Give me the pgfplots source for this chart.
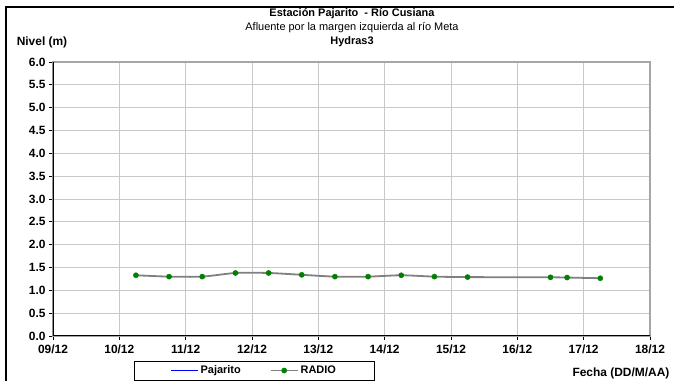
\documentclass[border=0pt]{standalone}
\usepackage{fontspec}
\setmainfont{Liberation Sans}
\usepackage{pgfplots}
\pgfplotsset{compat=1.18}
\definecolor{radiogreen}{HTML}{008000}
\definecolor{linegray}{HTML}{808080}
\definecolor{gridgray}{HTML}{C8C8C8}
\begin{document}
\begin{tikzpicture}
\useasboundingbox (0,0) rectangle (674bp,381bp);
\draw[line width=1.2bp] (6bp,0) -- (6bp,374bp) -- (674bp,374bp);
\node[font=\bfseries\fontsize{11}{12}\selectfont] at (352bp,367bp) {Estación Pajarito \ - Río Cusiana};
\node[font=\fontsize{11}{12}\selectfont] at (352bp,353bp) {Afluente por la margen izquierda al río Meta};
\node[font=\bfseries\fontsize{11}{12}\selectfont] at (352bp,339bp) {Hydras3};
\node[font=\bfseries\fontsize{12}{13}\selectfont] at (42bp,339bp) {Nivel (m)};
\node[font=\bfseries\fontsize{12}{13}\selectfont, anchor=east] at (673bp,8bp) {Fecha (DD/M/AA)};
\begin{axis}[
  at={(53bp,45bp)}, anchor=south west,
  scale only axis, width=597bp, height=274bp,
  xmin=0, xmax=9, ymin=0, ymax=6,
  xtick={0,1,...,9},
  xticklabels={09/12,10/12,11/12,12/12,13/12,14/12,15/12,16/12,17/12,18/12},
  ytick={0,0.5,...,6.01},
  yticklabel style={/pgf/number format/.cd, fixed, fixed zerofill, precision=1},
  xticklabel style={yshift=-1bp},
  /pgf/number format/assume math mode=true,
  ticklabel style={font=\bfseries\fontsize{12}{13}\selectfont},
  grid=major,
  major grid style={draw=gridgray, line width=0.9bp},
  axis line style={draw=gray!70, line width=1.2bp},
  tick align=outside, xtick pos=left, ytick pos=left,
  major tick length=4bp,
  tick style={black, line width=0.8bp},
  legend columns=2,
  legend style={at={(rel axis cs:0.337,-0.126)}, anchor=center,
    draw=black, line width=0.6bp, font=\bfseries\fontsize{11}{12}\selectfont,
    inner xsep=36bp, inner ysep=3bp},
  /tikz/every even column/.append style={column sep=27bp},
  legend image code/.code={\draw[mark repeat=2,mark phase=2,#1] plot coordinates {(0bp,0bp) (13.5bp,0bp) (27bp,0bp)};},
]
\draw[black, line width=1.2bp] (rel axis cs:0,1) -- (rel axis cs:0,0) -- (rel axis cs:1,0);
\addlegendimage{blue, line width=1.2bp}
\addlegendentry{Pajarito}
\addplot[linegray, line width=1.8bp, smooth, tension=0.4, mark=*, mark size=2.6bp,
  mark options={fill=radiogreen, draw=radiogreen, line width=0.4bp}]
  coordinates {
  (1.25,1.33) (1.75,1.30) (2.25,1.30) (2.75,1.38) (3.25,1.38) (3.75,1.34)
  (4.25,1.30) (4.75,1.30) (5.25,1.33) (5.75,1.30) (6.25,1.29)
  (7.5,1.285) (7.75,1.28) (8.25,1.265)
  };
\addlegendentry{RADIO}
\end{axis}
\end{tikzpicture}
\end{document}
